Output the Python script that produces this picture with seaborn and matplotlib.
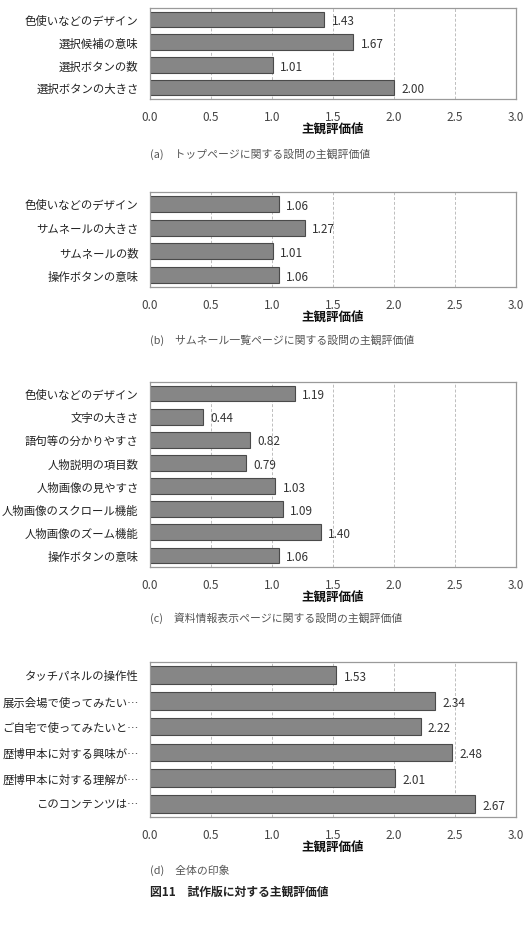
import matplotlib
matplotlib.use("Agg")
import matplotlib.pyplot as plt
import seaborn as sns
import pandas as pd

sns.set_theme(style="white")
plt.rcParams['font.family'] = ['Noto Sans CJK JP', 'DejaVu Sans']

# ---- data ----
labels_a = ["色使いなどのデザイン", "選択候補の意味", "選択ボタンの数", "選択ボタンの大きさ"]
values_a = [1.43, 1.67, 1.01, 2.00]

labels_b = ["色使いなどのデザイン", "サムネールの大きさ", "サムネールの数", "操作ボタンの意味"]
values_b = [1.06, 1.27, 1.01, 1.06]

labels_c = ["色使いなどのデザイン", "文字の大きさ", "語句等の分かりやすさ", "人物説明の項目数",
            "人物画像の見やすさ", "人物画像のスクロール機能", "人物画像のズーム機能", "操作ボタンの意味"]
values_c = [1.19, 0.44, 0.82, 0.79, 1.03, 1.09, 1.40, 1.06]

labels_d = ["タッチパネルの操作性", "展示会場で使ってみたい…", "ご自宅で使ってみたいと…",
            "歴博甲本に対する興味が…", "歴博甲本に対する理解が…", "このコンテンツは…"]
values_d = [1.53, 2.34, 2.22, 2.48, 2.01, 2.67]

captions = ["(a)　トップページに関する設問の主観評価値",
            "(b)　サムネール一覧ページに関する設問の主観評価値",
            "(c)　資料情報表示ページに関する設問の主観評価値",
            "(d)　全体の印象"]
xlabel = "主観評価値"
fig_title = "図11　試作版に対する主観評価値"
xticks = [0.0, 0.5, 1.0, 1.5, 2.0, 2.5, 3.0]

W, H = 523, 945
fig = plt.figure(figsize=(W / 100, H / 100), dpi=100)

left_px, right_px = 149.7, 515.7
# (top, bottom) pixel positions of each axes
panels = [
    (labels_a, values_a, 9, 100),
    (labels_b, values_b, 193, 288),
    (labels_c, values_c, 383, 568),
    (labels_d, values_d, 663, 818),
]
caption_y = [154, 340, 618, 870]

for i, (labs, vals, top, bot) in enumerate(panels):
    ax = fig.add_axes([left_px / W, (H - bot) / H, (right_px - left_px) / W, (bot - top) / H])
    df = pd.DataFrame({"item": labs, "value": vals})
    sns.barplot(data=df, x="value", y="item", orient="h", ax=ax, color="#868686",
                edgecolor="#4a4a4a", linewidth=0.8, width=0.68, saturation=1)
    ax.set_xlim(0, 3.0)
    ax.set_ylim(len(labs) - 0.5, -0.5)
    ax.set_xticks(xticks)
    ax.set_xticklabels([f"{t:.1f}" for t in xticks], fontsize=8.5, color="#444444")
    ax.tick_params(axis="x", length=0, pad=8)
    ax.tick_params(axis="y", length=0, pad=8, labelsize=8.2, labelcolor="#222222")
    ax.set_yticks(range(len(labs)))
    ax.set_yticks([k + 0.5 for k in range(len(labs) - 1)], minor=True)
    ax.tick_params(axis="y", which="minor", direction="in", length=3, color="#999999", width=0.6)
    ax.set_ylabel("")
    ax.set_xlabel(xlabel, fontsize=9, fontweight="bold", color="#111111", labelpad=-1)
    for x in xticks[1:-1]:
        ax.axvline(x, color="#bdbdbd", linestyle=(0, (3, 2)), linewidth=0.7, zorder=0)
    for s in ax.spines.values():
        s.set_color("#9a9a9a")
        s.set_linewidth(0.9)
    for k, v in enumerate(vals):
        ax.text(v + 0.06, k + 0.05, f"{v:.2f}", va="center", ha="left", fontsize=8.5, color="#333333")
    fig.text(150 / W, 1 - caption_y[i] / H, captions[i], fontsize=7.8, color="#555555",
             va="center", ha="left")

fig.text(150 / W, 1 - 892 / H, fig_title, fontsize=8.5, fontweight="bold", color="#222222",
         va="center", ha="left")

fig.savefig("out.png", dpi=100)
